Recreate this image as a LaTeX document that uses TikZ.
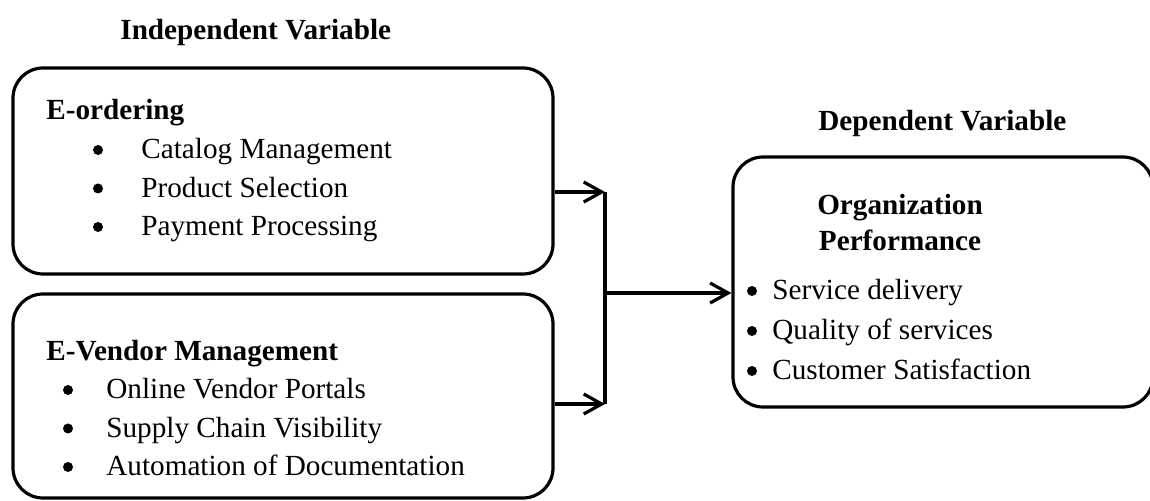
\documentclass[tikz,border=0pt]{standalone}
\usepackage{fontspec}
\setmainfont{Liberation Serif}
\usetikzlibrary{arrows.meta,fit}
\newcommand\myfs{\fontsize{14.6pt}{17pt}\selectfont}
\tikzset{
  box/.style={draw, line width=1.6pt, rounded corners=15pt, inner sep=0pt},
  txt/.style={anchor=base west, inner sep=0pt, font=\myfs},
  ttl/.style={anchor=base west, inner sep=0pt, font=\myfs\bfseries},
  ctl/.style={anchor=base, inner sep=0pt, font=\myfs\bfseries},
  bul/.style={circle, fill, inner sep=0pt, minimum size=5pt},
  conn/.style={line width=1.6pt},
  arr/.style={line width=1.6pt, -{Straight Barb[length=9pt,width=10pt]}},
}
\begin{document}
\begin{tikzpicture}[x=0.5pt,y=-0.5pt]
\useasboundingbox (0,0) rectangle (1150,501);
% headers
\node[ttl] (h1) at (120,40) {Independent Variable};
\node[ttl] (h2) at (818,131) {Dependent Variable};
% boxes
\coordinate (b1a) at (13,68);  \coordinate (b1b) at (553,274);
\coordinate (b2a) at (13,294); \coordinate (b2b) at (553,498);
\coordinate (b3a) at (733,157); \coordinate (b3b) at (1153,407);
\node[box, fit=(b1a)(b1b)] (b1) {};
\node[box, fit=(b2a)(b2b)] (b2) {};
\node[box, fit=(b3a)(b3b)] (b3) {};
% box 1 text
\node[ttl] (t1) at (46,120) {E-ordering};
\node[bul] (u11) at (98,150) {};
\node[txt] (i11) at (141,159) {Catalog Management};
\node[bul] (u12) at (98,188.5) {};
\node[txt] (i12) at (141,197.5) {Product Selection};
\node[bul] (u13) at (98,227) {};
\node[txt] (i13) at (141,236) {Payment Processing};
% box 2 text
\node[ttl] (t2) at (46,361) {E-Vendor Management};
\node[bul] (u21) at (68,390) {};
\node[txt] (i21) at (106,399) {Online Vendor Portals};
\node[bul] (u22) at (68,428.5) {};
\node[txt] (i22) at (106,437.5) {Supply Chain Visibility};
\node[bul] (u23) at (68,467) {};
\node[txt] (i23) at (106,476) {Automation of Documentation};
% box 3 text
\node[ctl] (t3a) at (900,215) {Organization};
\node[ctl] (t3b) at (900,251) {Performance};
\node[bul] (u31) at (752,291) {};
\node[txt] (i31) at (772,300) {Service delivery};
\node[bul] (u32) at (752,331) {};
\node[txt] (i32) at (772,340) {Quality of services};
\node[bul] (u33) at (752,371) {};
\node[txt] (i33) at (772,380) {Customer Satisfaction};
% connectors
\coordinate (j1) at (605,192);
\coordinate (j2) at (605,404);
\coordinate (jm) at (605,293);
\draw[arr] (b1.east |- j1) -- (j1);
\draw[arr] (b2.east |- j2) -- (j2);
\draw[conn] (j1) -- (j2);
\draw[arr] (jm) -- (b3.west |- jm);
\end{tikzpicture}
\end{document}
